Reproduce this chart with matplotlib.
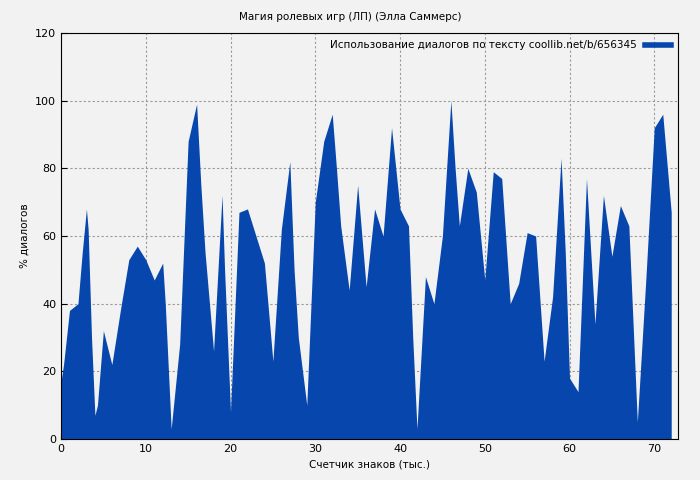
import matplotlib
matplotlib.use("Agg")
import matplotlib.pyplot as plt
from matplotlib.lines import Line2D

x = [0,0.3,1,2,2.5,3,3.2,3.6,4,4.3,5,6,7,8,9,10,11,12,12.3,13,14,15,16,16.5,17,18,19,19.3,20,21,22,23,24,25,26,27,27.5,28,29,30,31,32,32.5,33,34,35,36,37,38,39,40,41,41.5,42,43,44,45,46,46.5,47,48,49,50,51,52,53,54,55,56,57,58,59,59.5,60,61,62,63,64,65,66,67,68,69,70,71,72]
y = [17,22,38,40,55,68,62,30,7,10,32,22,38,53,57,53,47,52,40,3,28,88,99,75,55,26,72,50,8,67,68,60,52,23,62,82,50,30,10,70,88,96,80,63,44,75,45,68,60,92,68,63,30,3,48,40,60,100,80,63,80,73,47,79,77,40,46,61,60,23,42,83,55,18,14,77,34,72,54,69,63,5,47,92,96,67]

fig = plt.figure(figsize=(7, 4.8), dpi=100, facecolor="#f2f2f2")
ax = fig.add_axes([61/700, 1-439/480, (678-61)/700, (439-33)/480], facecolor="#f2f2f2")
ax.fill_between(x, y, 0, color="#0646ad", lw=0)
ax.set_xlim(0, 72.8)
ax.set_ylim(0, 120)
ax.set_xticks(range(0, 80, 10))
ax.set_yticks(range(0, 140, 20))
ax.grid(True, color="#999999", linestyle=(0, (2, 2)), lw=0.8)
ax.set_axisbelow(True)
ax.tick_params(labelsize=8, direction="in", length=4)
ax.set_xlabel("Счетчик знаков (тыс.)", fontsize=7.5)
ax.set_ylabel("% диалогов", fontsize=7.5)
fig.suptitle("Магия ролевых игр (ЛП) (Элла Саммерс)", fontsize=7.5, y=0.975)
h = Line2D([], [], color="#0646ad", lw=4)
ax.legend([h], ["Использование диалогов по тексту coollib.net/b/656345"], loc="upper right",
          frameon=False, fontsize=7.5, markerfirst=False, handlelength=2.5, borderaxespad=0.3)
fig.savefig("out.png", dpi=100, facecolor=fig.get_facecolor())
